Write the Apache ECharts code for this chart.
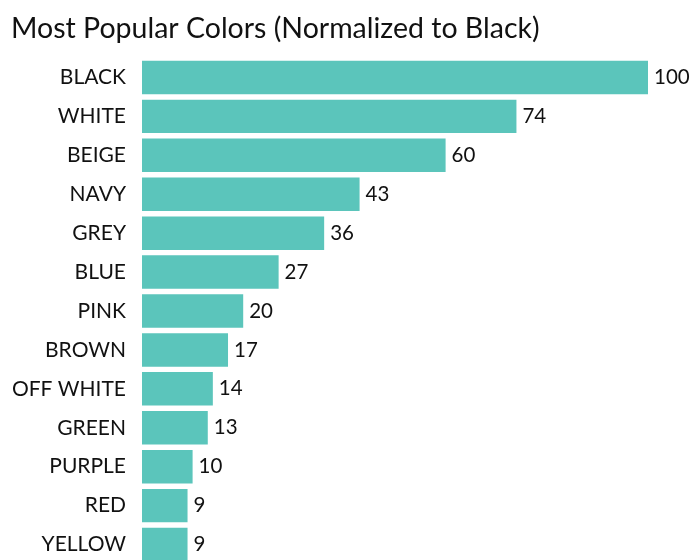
<!DOCTYPE html>
<html>
<head>
<meta charset="utf-8">
<script src="https://cdn.jsdelivr.net/npm/echarts@6/dist/echarts.min.js"></script>
<style>
  html, body { margin: 0; padding: 0; background: #fff; }
  #chart { width: 695px; height: 560px; }
</style>
</head>
<body>
<div id="chart"></div>
<script>
// Colour names, most popular first
const colorNames = ['BLACK', 'WHITE', 'BEIGE', 'NAVY', 'GREY', 'BLUE', 'PINK',
  'BROWN', 'OFF WHITE', 'GREEN', 'PURPLE', 'RED', 'YELLOW'];
// Popularity, normalized so BLACK = 100
const popularity = [100, 74, 60, 43, 36, 27, 20, 17, 14, 13, 10, 9, 9];

const FONT = 'Lato, "Open Sans", sans-serif';
const chart = echarts.init(document.getElementById('chart'), null, { renderer: 'canvas' });

chart.setOption({
  animation: false,
  backgroundColor: '#ffffff',
  title: {
    text: 'Most Popular Colors (Normalized to Black)',
    left: 6,
    top: 9,
    textStyle: { fontFamily: FONT, fontSize: 28.5, fontWeight: 'normal', color: '#111' }
  },
  // the last row runs past the bottom edge of the canvas
  grid: { left: 142, width: 506, top: 58, height: 506, outerBoundsMode: 'none', containLabel: false },
  xAxis: {
    type: 'value', min: 0, max: 100, show: false
  },
  yAxis: {
    type: 'category',
    inverse: true,
    data: colorNames,
    axisLine: { show: false },
    axisTick: { show: false },
    splitLine: { show: false },
    axisLabel: { margin: 16, fontFamily: FONT, fontSize: 21, color: '#111' }
  },
  series: [{
    type: 'bar',
    data: popularity,
    barCategoryGap: '14%',
    itemStyle: { color: '#5bc5bb' },
    label: {
      show: true, position: 'right', distance: 6,
      fontFamily: FONT, fontSize: 20.5, color: '#111'
    }
  }]
});
</script>
</body>
</html>
